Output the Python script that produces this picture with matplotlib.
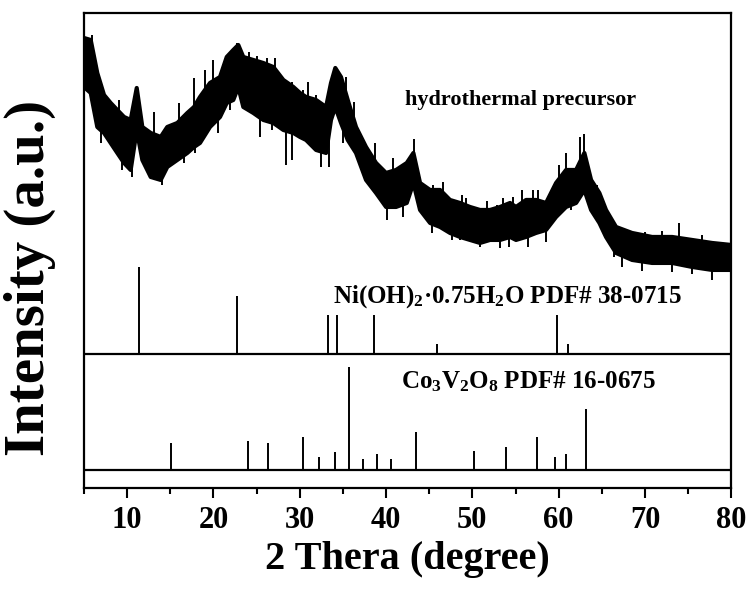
import numpy as np
import matplotlib.pyplot as plt
from matplotlib.ticker import MultipleLocator

plt.rcParams['font.family'] = ['Liberation Serif', 'DejaVu Serif']
plt.rcParams['font.weight'] = 'bold'
plt.rcParams['mathtext.fontset'] = 'custom'
plt.rcParams['mathtext.rm'] = 'Liberation Serif:bold'
plt.rcParams['mathtext.default'] = 'rm'

# measured pattern of the hydrothermal precursor (noise band, a.u.)
two_theta = [5.00, 5.78, 6.54, 7.32, 8.09, 8.86, 9.64, 10.41, 11.11, 11.76,
             12.73, 13.89, 14.65, 15.81, 16.97, 17.75, 18.44, 19.60, 20.76, 21.54,
             22.30, 22.88, 23.46, 24.62, 25.78, 26.94, 28.10, 29.26, 30.03, 30.73,
             31.89, 33.05, 33.62, 34.12, 34.78, 35.56, 36.52, 37.68, 38.84, 40.00,
             41.16, 42.40, 43.17, 43.94, 45.10, 46.26, 47.41, 48.57, 49.73, 50.89,
             52.05, 53.21, 54.37, 55.06, 56.22, 57.38, 58.54, 59.70, 60.86, 62.02,
             62.98, 63.76, 64.72, 65.49, 66.65, 68.51, 70.83, 73.15, 75.47, 77.78,
             80.00]
band_hi = [452, 450, 417, 395, 387, 380, 373, 370, 402, 363,
           357, 353, 363, 367, 377, 383, 393, 407, 413, 433,
           440, 445, 433, 430, 427, 423, 410, 403, 397, 393,
           390, 383, 407, 422, 413, 390, 363, 343, 327, 317,
           320, 327, 337, 307, 300, 300, 290, 287, 283, 280,
           280, 283, 287, 283, 290, 290, 287, 307, 320, 320,
           337, 310, 297, 280, 263, 257, 253, 253, 250, 247,
           245]
band_lo = [403, 397, 363, 357, 347, 337, 327, 320, 360, 330,
           313, 310, 323, 330, 337, 343, 347, 363, 373, 387,
           390, 403, 383, 377, 370, 367, 360, 357, 353, 350,
           340, 337, 370, 383, 367, 350, 337, 310, 297, 283,
           283, 287, 307, 280, 267, 263, 257, 253, 250, 247,
           250, 250, 253, 250, 253, 257, 260, 273, 283, 287,
           300, 280, 267, 253, 237, 230, 227, 227, 223, 220,
           220]

# isolated noise spikes
spike_up_x = [5.96, 9.06, 13.11, 16.0, 17.8, 19.0, 19.91, 21.9, 22.69, 24.16,
              25.0, 26.2, 27.13, 29.07, 30.35, 30.92, 31.9, 35.4, 36.33, 38.72,
              40.77, 43.24, 45.4, 46.64, 48.77, 49.3, 51.7, 52.8, 53.59, 54.7,
              55.76, 57.0, 57.58, 60.01, 60.86, 61.6, 62.48, 62.98, 64.5, 70.0,
              72.0, 73.92, 76.62]
spike_up_y = [455, 390, 378, 387, 412, 420, 430, 432, 447, 438,
              434, 432, 432, 408, 400, 408, 395, 413, 388, 347,
              332, 351, 305, 308, 295, 292, 289, 285, 292, 293,
              300, 300, 300, 325, 337, 322, 353, 356, 305, 258,
              259, 267, 255]
spike_dn_x = [6.93, 9.44, 10.6, 14.07, 16.59, 17.86, 20.56, 21.9, 25.40, 26.75,
              28.37, 29.07, 32.47, 33.36, 34.98, 40.08, 42.0, 45.29, 47.61, 48.6,
              50.89, 53.21, 54.29, 56.42, 58.5, 61.44, 66.46, 67.35, 69.7, 73.15,
              75.5, 77.78]
spike_dn_y = [347, 320, 313, 305, 327, 337, 357, 380, 353, 360,
              325, 330, 323, 323, 347, 270, 273, 257, 250, 250,
              243, 242, 243, 243, 248, 280, 233, 223, 219, 218,
              216, 210]

# reference cards (relative intensity, %)
ni_pos = [11.34, 22.70, 33.30, 34.28, 38.60, 45.87, 59.77, 61.05]
ni_int = [100, 67, 45, 45, 45, 12, 45, 12]
co_pos = [15.04, 23.97, 26.28, 30.38, 32.27, 34.05, 35.74, 37.37, 38.91, 40.54,
          43.47, 50.19, 53.90, 57.45, 59.62, 60.81, 63.13]
co_int = [26, 28, 26, 32, 13, 17, 100, 11, 15, 11,
          37, 18, 22, 32, 13, 15, 59]

ni_base, ni_scale = 136, 0.87
co_base, co_scale = 20, 1.03

fig = plt.figure(figsize=(7.5, 5.9), dpi=100)
ax = fig.add_axes([0.112, 0.173, 0.863, 0.805])

ax.fill_between(two_theta, band_lo, band_hi, color='black', lw=0)
ax.plot(two_theta, band_hi, color='black', lw=3, solid_joinstyle='round')
ax.plot(two_theta, band_lo, color='black', lw=3, solid_joinstyle='round')
hi_at = np.interp(spike_up_x, two_theta, band_hi)
lo_at = np.interp(spike_dn_x, two_theta, band_lo)
ax.vlines(spike_up_x, hi_at - 10, spike_up_y, color='black', lw=1.4)
ax.vlines(spike_dn_x, spike_dn_y, lo_at + 10, color='black', lw=1.4)

ax.axhline(ni_base, color='black', lw=1.6)
ax.vlines(ni_pos, ni_base, ni_base + np.array(ni_int) * ni_scale, color='black', lw=1.4)
ax.axhline(co_base, color='black', lw=1.6)
ax.vlines(co_pos, co_base, co_base + np.array(co_int) * co_scale, color='black', lw=1.4)

ax.text(42.2, 390, 'hydrothermal precursor', fontsize=16, fontweight='bold', va='center')
ax.text(33.86, 193, r'Ni(OH)$_2$·0.75H$_2$O PDF# 38-0715', fontsize=18,
        fontweight='bold', va='center')
ax.text(41.74, 108, r'Co$_3$V$_2$O$_8$ PDF# 16-0675', fontsize=18,
        fontweight='bold', va='center')

ax.set_xlim(5, 80)
ax.set_ylim(2, 477)
ax.xaxis.set_major_locator(MultipleLocator(10))
ax.xaxis.set_minor_locator(MultipleLocator(5))
ax.set_yticks([])
ax.tick_params(axis='x', which='major', direction='out', length=7, width=1.5,
               labelsize=22, pad=6)
ax.tick_params(axis='x', which='minor', direction='out', length=4, width=1.5)
for s in ax.spines.values():
    s.set_linewidth(1.6)

ax.set_xlabel('2 Thera (degree)', fontsize=29, fontweight='bold', labelpad=4)
ax.set_ylabel('Intensity (a.u.)', fontsize=41, fontweight='bold', va='center')
ax.yaxis.set_label_coords(-0.084, 0.443)

fig.savefig('out.png', dpi=100)
